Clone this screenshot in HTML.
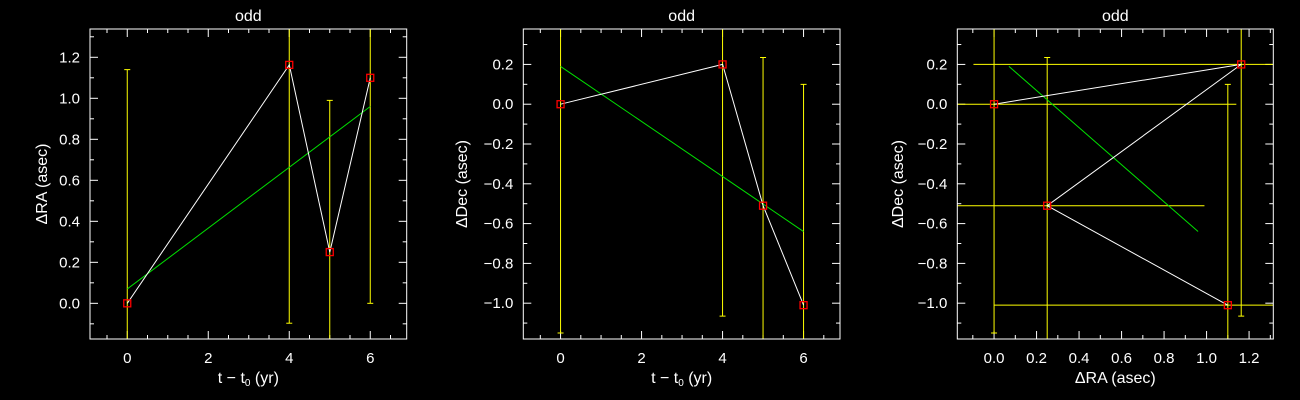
<!DOCTYPE html>
<html><head><meta charset="utf-8"><style>
html,body{margin:0;padding:0;background:#000;width:1300px;height:400px;overflow:hidden;}
svg{display:block;}
text{font-family:"Liberation Sans","DejaVu Sans",sans-serif;fill:#fff;}
</style></head><body>
<svg id="chart" width="1300" height="400" viewBox="0 0 1300 400"></svg>
<script>
const times = [0, 4, 5, 6];
const raValues = [0, 1.163, 0.25, 1.1];
const decValues = [0, 0.2, -0.51, -1.01];
const raErrors = [1.14, 1.26, 0.74, 1.1];
const decErrors = [1.15, 1.265, 0.745, 1.11];
const raFit = [0.07, 0.96];
const decFit = [0.19, -0.64];
const fitTimes = [0, 6];
const timeTicks = [0, 2, 4, 6];
const raTicks = [0.0, 0.2, 0.4, 0.6, 0.8, 1.0, 1.2];
const decTicks = [0.2, 0.0, -0.2, -0.4, -0.6, -0.8, -1.0];

const NS = 'http://www.w3.org/2000/svg';
const svg = document.getElementById('chart');
function el(tag, attrs, parent, txt) {
  const e = document.createElementNS(NS, tag);
  for (const k in attrs) e.setAttribute(k, attrs[k]);
  if (txt !== undefined) e.textContent = txt;
  (parent || svg).appendChild(e);
  return e;
}
function fmt(v, dec) { return (v < 0 ? '\u2212' : '') + Math.abs(v).toFixed(dec); }

const panels = [
  {name:'ra-vs-time', x0:90, x1:406.7, y0:29, y1:339, xmin:-0.92, xmax:6.9, ymin:-0.174, ymax:1.338,
   xticks:timeTicks, xminor:0.5, xdec:0, yticks:raTicks, yminor:0.1, ydec:1, ytitle:'\u0394RA (asec)', ytx:47,
   xtitle:'t \u2212 t', sub:true},
  {name:'dec-vs-time', x0:523.3, x1:840, y0:29, y1:339, xmin:-0.92, xmax:6.9, ymin:-1.18, ymax:0.378,
   xticks:timeTicks, xminor:0.5, xdec:0, yticks:decTicks, yminor:0.1, ydec:1, ytitle:'\u0394Dec (asec)', ytx:467,
   xtitle:'t \u2212 t', sub:true},
  {name:'dec-vs-ra', x0:957.3, x1:1273.3, y0:29, y1:339, xmin:-0.173, xmax:1.314, ymin:-1.18, ymax:0.378,
   xticks:raTicks, xminor:0.1, xdec:1, yticks:decTicks, yminor:0.1, ydec:1, ytitle:'\u0394Dec (asec)', ytx:903,
   xtitle:'\u0394RA (asec)', sub:false}
];

panels.forEach((p, pi) => {
  const g = el('g', {}, svg);
  
  
  const sx = v => p.x0 + (v - p.xmin) / (p.xmax - p.xmin) * (p.x1 - p.x0);
  const sy = v => p.y1 - (v - p.ymin) / (p.ymax - p.ymin) * (p.y1 - p.y0);
  const clipId = 'clip' + pi;
  const cp = el('clipPath', {id: clipId}, g);
  el('rect', {x:p.x0, y:p.y0, width:p.x1-p.x0, height:p.y1-p.y0}, cp);

  const t = el('text', {x:(p.x0+p.x1)/2, y:21, 'text-anchor':'middle', 'font-size':16}, g, 'odd');
  
  

  const ax = el('g', {stroke:'#fff', 'stroke-width':1}, g);
  
  
  for (let v = Math.ceil(p.xmin / p.xminor) * p.xminor; v <= p.xmax + 1e-9; v += p.xminor) {
    const X = sx(v);
    const step = p.xticks[1]-p.xticks[0];
    const major = Math.abs(v / step - Math.round(v / step)) < 1e-6;
    const L = major ? 8 : 4;
    el('line', {x1:X, x2:X, y1:p.y1, y2:p.y1-L}, ax);
    el('line', {x1:X, x2:X, y1:p.y0, y2:p.y0+L}, ax);
  }
  for (let v = Math.ceil(p.ymin / p.yminor) * p.yminor; v <= p.ymax + 1e-9; v += p.yminor) {
    const Y = sy(v);
    const major = Math.abs(v / 0.2 - Math.round(v / 0.2)) < 1e-6;
    const L = major ? 8 : 4;
    el('line', {x1:p.x0, x2:p.x0+L, y1:Y, y2:Y}, ax);
    el('line', {x1:p.x1, x2:p.x1-L, y1:Y, y2:Y}, ax);
  }
  p.xticks.forEach(v => {
    const tl = el('text', {x:sx(v), y:p.y1+24, 'text-anchor':'middle', 'font-size':15}, g, fmt(v, p.xdec));
    
    
  });
  p.yticks.forEach(v => {
    const tl = el('text', {x:p.x0-10, y:sy(v)+5, 'text-anchor':'end', 'font-size':15}, g, fmt(v, p.ydec));
    
    
  });
  const xt = el('text', {x:(p.x0+p.x1)/2, y:383, 'text-anchor':'middle', 'font-size':16}, g);
  
  
  if (p.sub) {
    xt.textContent = p.xtitle;
    el('tspan', {'font-size':10, dy:3}, xt, '0');
    el('tspan', {dy:-3}, xt, ' (yr)');
  } else xt.textContent = p.xtitle;
  const yt = el('text', {x:p.ytx, y:(p.y0+p.y1)/2, 'text-anchor':'middle', 'font-size':16,
    transform:'rotate(-90 '+p.ytx+' '+((p.y0+p.y1)/2)+')'}, g, p.ytitle);
  
  

  const d = el('g', {'clip-path':'url(#'+clipId+')'}, g);
  let xs, ys, fx, fy;
  if (pi === 0) { xs = times; ys = raValues; fx = fitTimes; fy = raFit; }
  else if (pi === 1) { xs = times; ys = decValues; fx = fitTimes; fy = decFit; }
  else { xs = raValues; ys = decValues; fx = raFit; fy = decFit; }

  xs.forEach((xv, i) => {
    const yerr = pi === 0 ? raErrors[i] : decErrors[i];
    const X = sx(xv), Ya = sy(ys[i] + yerr), Yb = sy(ys[i] - yerr);
    const eb = el('g', {stroke:'#ffff00', 'stroke-width':1}, d);
    
    
    el('line', {x1:X, x2:X, y1:Ya, y2:Yb}, eb);
    el('line', {x1:X-3, x2:X+3, y1:Ya, y2:Ya}, eb);
    el('line', {x1:X-3, x2:X+3, y1:Yb, y2:Yb}, eb);
    if (pi === 2) {
      const Y = sy(ys[i]), Xa = sx(xv - raErrors[i]), Xb = sx(xv + raErrors[i]);
      el('line', {x1:Xa, x2:Xb, y1:Y, y2:Y}, eb);
    }
  });
  const fit = el('line', {x1:sx(fx[0]), y1:sy(fy[0]), x2:sx(fx[1]), y2:sy(fy[1]), stroke:'#00e000', 'stroke-width':1}, d);
  
  
  const pts = xs.map((xv, i) => sx(xv).toFixed(1) + ',' + sy(ys[i]).toFixed(1)).join(' ');
  const pl = el('polyline', {points:pts, fill:'none', stroke:'#fff', 'stroke-width':1}, d);
  
  
  xs.forEach((xv, i) => {
    const m = el('rect', {x:sx(xv)-3.5, y:sy(ys[i])-3.5, width:7, height:7, fill:'none', stroke:'#ff0000', 'stroke-width':1.3}, d);
    
    
  });
  const fr = el('rect', {x:p.x0, y:p.y0, width:p.x1-p.x0, height:p.y1-p.y0, fill:'none', stroke:'#fff', 'stroke-width':1}, g);
  
  
});
</script>
</body></html>
